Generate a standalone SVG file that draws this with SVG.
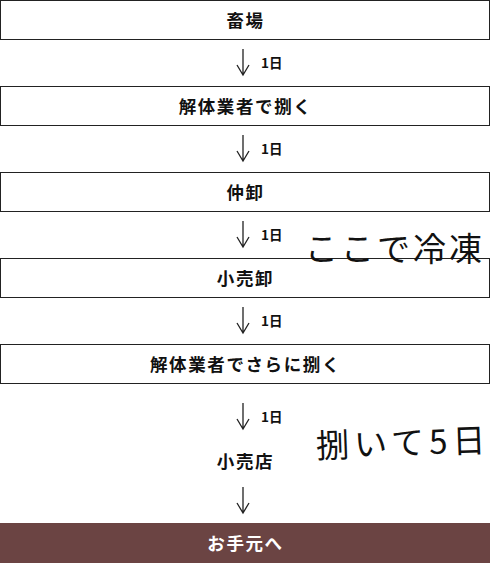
<svg xmlns="http://www.w3.org/2000/svg" width="490" height="563" viewBox="0 0 490 563">
<style>
.box{fill:#fff;stroke:#222;stroke-width:1}
.lbl{font-family:"Noto Sans CJK JP","Noto Sans",sans-serif;font-weight:700;font-size:17.5px;letter-spacing:1.6px;fill:#111;text-anchor:middle;dominant-baseline:central}
.day{font-family:"Noto Sans CJK JP","Noto Sans",sans-serif;font-weight:700;font-size:13.5px;fill:#111;dominant-baseline:central}
.arr{fill:none;stroke:#222;stroke-width:1.3}
.hand{font-family:"Noto Sans CJK JP",sans-serif;font-weight:400;font-size:33px;fill:#111}
</style>
<rect x="0" y="0" width="490" height="563" fill="#fff"/>
<g id="connectors">
  <g transform="translate(0,49)"><path class="arr" d="M243 0V26M237 16L243 26L249 16"/></g>
  <g transform="translate(0,135)"><path class="arr" d="M243 0V26M237 16L243 26L249 16"/></g>
  <g transform="translate(0,221)"><path class="arr" d="M243 0V26M237 16L243 26L249 16"/></g>
  <g transform="translate(0,307)"><path class="arr" d="M243 0V26M237 16L243 26L249 16"/></g>
  <g transform="translate(0,403)"><path class="arr" d="M243 0V26M237 16L243 26L249 16"/></g>
  <g transform="translate(0,487)"><path class="arr" d="M243 0V26M237 16L243 26L249 16"/></g>
  <text class="day" x="261" y="62">1日</text>
  <text class="day" x="261" y="148">1日</text>
  <text class="day" x="261" y="234">1日</text>
  <text class="day" x="261" y="320">1日</text>
  <text class="day" x="261" y="416">1日</text>
</g>
<g id="n1"><rect class="box" x="0.5" y="0.5" width="489" height="39"/><text class="lbl" x="245.5" y="19">畜場</text></g>
<g id="n2"><rect class="box" x="0.5" y="86.5" width="489" height="39"/><text class="lbl" x="245.5" y="105">解体業者で捌く</text></g>
<g id="n3"><rect class="box" x="0.5" y="172.5" width="489" height="39"/><text class="lbl" x="245.5" y="191">仲卸</text></g>
<g id="n4"><rect class="box" x="0.5" y="258.5" width="489" height="39"/><text class="lbl" x="245.5" y="277">小売卸</text></g>
<g id="n5"><rect class="box" x="0.5" y="344.5" width="489" height="39"/><text class="lbl" x="245.5" y="363">解体業者でさらに捌く</text></g>
<g id="n6"><text class="lbl" x="245.5" y="460">小売店</text></g>
<g id="n7"><rect x="0" y="523" width="490" height="40" fill="#6b4443"/><text class="lbl" x="245.5" y="542" style="fill:#fff">お手元へ</text></g>
<g id="notes">
  <text class="hand" x="305" y="261" letter-spacing="3">ここで冷凍</text>
  <text class="hand" x="316" y="455" letter-spacing="5" transform="rotate(-2 400 440)">捌いて5日</text>
</g>
</svg>
